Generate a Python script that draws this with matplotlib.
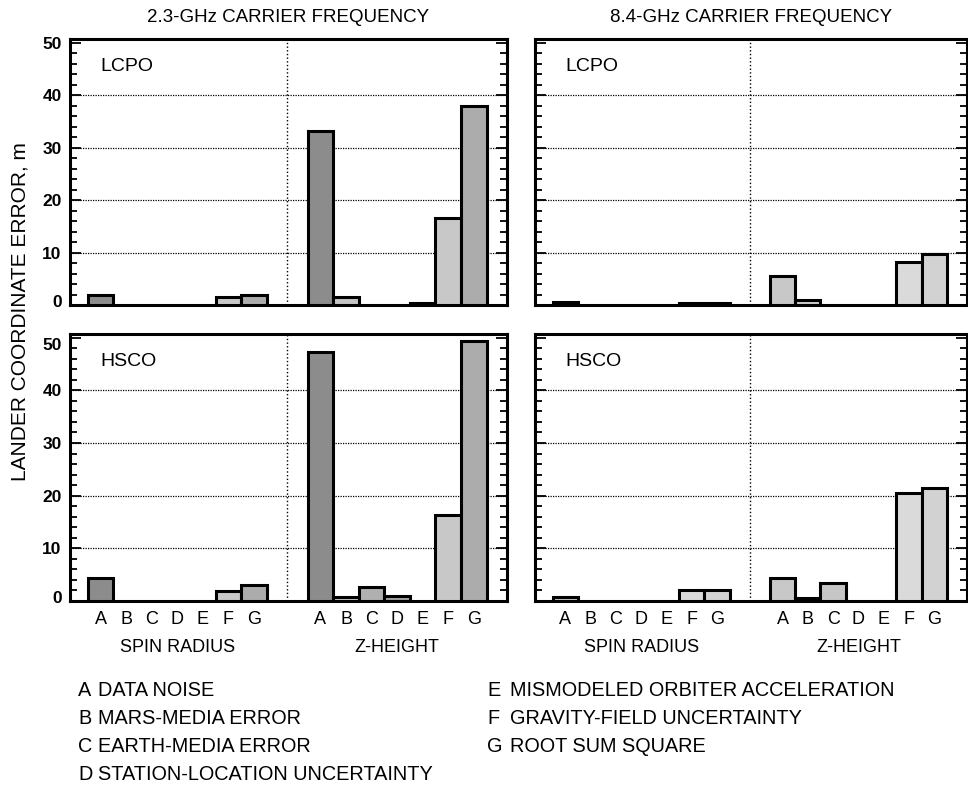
import numpy as np
import matplotlib.pyplot as plt
from matplotlib.ticker import MultipleLocator
from matplotlib.transforms import ScaledTranslation

plt.rcParams['font.family'] = ['Liberation Sans', 'DejaVu Sans']

# ======== data (metres), NaN = no bar drawn ========
sources = ['A', 'B', 'C', 'D', 'E', 'F', 'G']
source_names = ['DATA NOISE', 'MARS-MEDIA ERROR', 'EARTH-MEDIA ERROR',
                'STATION-LOCATION UNCERTAINTY', 'MISMODELED ORBITER ACCELERATION',
                'GRAVITY-FIELD UNCERTAINTY', 'ROOT SUM SQUARE']
groups = ['SPIN RADIUS', 'Z-HEIGHT']
frequencies = ['2.3-GHz CARRIER FREQUENCY', '8.4-GHz CARRIER FREQUENCY']
orbits = ['LCPO', 'HSCO']

nan = np.nan
lcpo_23_spin = [2.0, nan, nan, nan, nan, 1.5, 2.0]
lcpo_23_z = [33.2, 1.5, nan, nan, 0.4, 16.5, 38.0]
lcpo_84_spin = [0.5, nan, nan, nan, nan, 0.4, 0.4]
lcpo_84_z = [5.6, 1.0, nan, nan, nan, 8.2, 9.7]
hsco_23_spin = [4.3, nan, nan, nan, nan, 1.9, 3.0]
hsco_23_z = [47.3, 0.8, 2.6, 1.0, nan, 16.4, 49.4]
hsco_84_spin = [0.8, nan, nan, nan, nan, 2.0, 2.0]
hsco_84_z = [4.3, 0.6, 3.5, nan, nan, 20.5, 21.5]

panels = {
    (0, 0): (lcpo_23_spin, lcpo_23_z),
    (0, 1): (lcpo_84_spin, lcpo_84_z),
    (1, 0): (hsco_23_spin, hsco_23_z),
    (1, 1): (hsco_84_spin, hsco_84_z),
}

# grey shade of each bar, per carrier frequency
shade_23 = ['#8c8c8c', '#c4c4c4', '#b0b0b0', '#a0a0a0', '#a0a0a0', '#c8c8c8', '#acacac']
shade_84 = ['#c8c8c8', '#cccccc', '#c6c6c6', '#d0d0d0', '#d0d0d0', '#dadada', '#d2d2d2']
shades = [shade_23, shade_84]

# ======== layout ========
W, H = 968, 791
fig = plt.figure(figsize=(W / 100, H / 100), dpi=100)

col_x = [(70, 507), (535, 967)]
row_y = [(39, 305), (334, 601)]
group_offset = [0.0, 8.6]
divider = 7.3
xlim = (-1.2, 15.9)
ylim = (0, 50.7)

for (r, c), (spin, zh) in panels.items():
    x0, x1 = col_x[c]
    y0, y1 = row_y[r]
    ax = fig.add_axes([x0 / W, 1 - y1 / H, (x1 - x0) / W, (y1 - y0) / H])

    for g, vals in enumerate([spin, zh]):
        pos = np.arange(len(sources)) + group_offset[g]
        ax.bar(pos, vals, width=1.0, color=shades[c], edgecolor='black',
               linewidth=2.2, zorder=3)

    ax.set_xlim(xlim)
    ax.set_ylim(ylim)
    ax.axvline(divider, color='black', linestyle=':', linewidth=1.0, zorder=2)
    for yv in [10, 20, 30, 40]:
        ax.axhline(yv, color='black', linestyle=(0, (1, 1)), linewidth=0.9, zorder=1)

    ax.yaxis.set_major_locator(MultipleLocator(10))
    ax.yaxis.set_minor_locator(MultipleLocator(2))
    ax.tick_params(axis='y', which='both', direction='in', left=True, right=True, width=1.3)
    ax.tick_params(axis='y', which='major', length=8)
    ax.tick_params(axis='y', which='minor', length=5)
    for s in ax.spines.values():
        s.set_linewidth(2.2)

    if c == 0:
        ax.set_yticks([0, 10, 20, 30, 40, 50])
        ax.set_yticklabels(['0', '10', '20', '30', '40', '50'],
                           fontsize=12.5, fontweight='bold')
        ax.tick_params(axis='y', which='major', pad=6)
        ticks = ax.yaxis.get_major_ticks()
        ticks[0].label1.set_transform(ticks[0].label1.get_transform() +
                                      ScaledTranslation(0, 4 / 100, fig.dpi_scale_trans))
        if r == 1:
            ticks[-1].label1.set_transform(ticks[-1].label1.get_transform() +
                                           ScaledTranslation(0, -6 / 100, fig.dpi_scale_trans))
    else:
        ax.set_yticklabels([])

    if r == 1:
        pos_all = np.concatenate([np.arange(7) + o for o in group_offset])
        ax.set_xticks(pos_all)
        ax.set_xticklabels(sources * 2, fontsize=13)
        ax.tick_params(axis='x', length=0, pad=7.5)
        for g, name in enumerate(groups):
            ax.annotate(name, xy=(3 + group_offset[g], -46 / 267), xycoords=('data', 'axes fraction'),
                        ha='center', va='center', fontsize=13)
    else:
        ax.set_xticks([])

    ax.text(30 / (x1 - x0), 0.897, orbits[r], transform=ax.transAxes,
            ha='left', va='center', fontsize=14)

# column titles
for c, title in enumerate(frequencies):
    x0, x1 = col_x[c]
    fig.text((x0 + x1) / 2 / W, 1 - 17 / H, title, ha='center', va='center', fontsize=13.5)

fig.text(20 / W, 1 - 312 / H, 'LANDER COORDINATE ERROR, m', rotation=90,
         ha='center', va='center', fontsize=15)

# key to the letters
rows_y = [690, 718, 746, 774]
for i, (letter, name) in enumerate(zip(sources, source_names)):
    if i < 4:
        lx, tx, yy = 78, 98, rows_y[i]
    else:
        lx, tx, yy = 487, 510, rows_y[i - 4]
    fig.text(lx / W, 1 - yy / H, letter, ha='left', va='center', fontsize=14.3)
    fig.text(tx / W, 1 - yy / H, name, ha='left', va='center', fontsize=14.3)

fig.savefig('out.png', dpi=100)
